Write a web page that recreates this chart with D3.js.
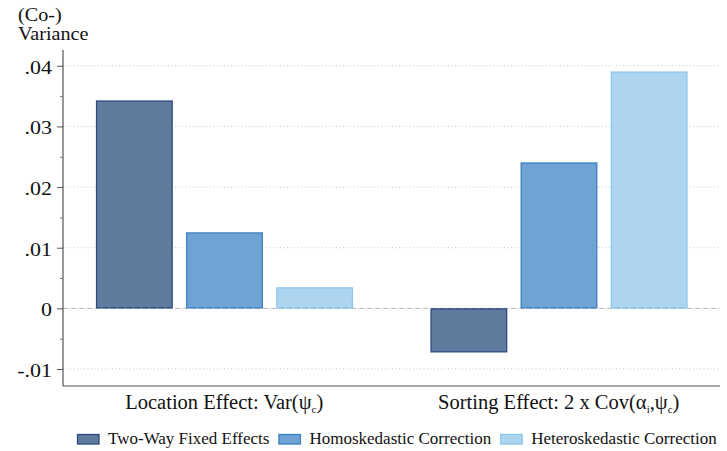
<!DOCTYPE html>
<html><head><meta charset="utf-8">
<script src="https://cdn.jsdelivr.net/npm/d3@7/dist/d3.min.js"></script>
<style>body{margin:0;background:#fff}svg{display:block}</style>
</head><body><svg id="c" width="727" height="451"></svg>
<script>
const groups = ["loc", "sort"];
const series = ["Two-Way Fixed Effects", "Homoskedastic Correction", "Heteroskedastic Correction"];
const twfe = [0.03427, -0.00725];
const homo = [0.01252, 0.02405];
const hetero = [0.00346, 0.03904];
const yTicks = [-0.01, 0, 0.01, 0.02, 0.03, 0.04];
const yTickLabels = ["-.01", "0", ".01", ".02", ".03", ".04"];
const yMinor = [-0.005, 0.005, 0.015, 0.025, 0.035];
const fills = ["#617b9f", "#6fa3d3", "#aed5ef"];
const strokes = ["#2b4b80", "#3b80c2", "#8cc5ee"];

const FONT = "'Liberation Serif'";
const values = [twfe, homo, hetero];
const svg = d3.select("#c");
const L = 63, R = 720, T = 50, B = 386;
const y = d3.scaleLinear().domain([-0.0128, 0.0426]).range([B, T]);
const x0 = d3.scaleBand().domain(groups).range([L, R]).paddingInner(0.2335).paddingOuter(0.0988);
const x1 = d3.scaleBand().domain(series).range([0, x0.bandwidth()]).paddingInner(0.1556).paddingOuter(0);
function txt(sel) { return sel.style("font-family", FONT).attr("fill", "#111"); }

// gridlines
svg.append("g").selectAll("line").data(yTicks).join("line")
  .attr("x1", L).attr("x2", R).attr("y1", d => y(d)).attr("y2", d => y(d))
  .attr("stroke", d => d === 0 ? "#b5b5b5" : "#c4c4c4").attr("stroke-width", 1)
  .attr("stroke-dasharray", d => d === 0 ? "5,3" : "1,2.5");

// bars
const rows = [];
groups.forEach((g, gi) => series.forEach((s, si) => rows.push({g, s, si, v: values[si][gi]})));
svg.append("g").selectAll("rect").data(rows).join("rect")
  .attr("x", d => x0(d.g) + x1(d.s) + 0.5)
  .attr("width", x1.bandwidth() - 0.5)
  .attr("y", d => Math.min(y(d.v), y(0)) + 0.5)
  .attr("height", d => Math.abs(y(d.v) - y(0)) - 1)
  .attr("fill", d => fills[d.si]).attr("stroke", d => strokes[d.si]).attr("stroke-width", 1.3);

// y axis
const ya = d3.axisLeft(y).tickValues(yTicks).tickFormat((d, i) => yTickLabels[i]).tickSize(6).tickPadding(5);
const gy = svg.append("g").attr("transform", `translate(${L},0)`).call(ya);
gy.attr("font-family", null);
gy.select(".domain").attr("stroke", "#333").attr("d", `M0,${T}V${B}`);
gy.selectAll(".tick line").attr("stroke", "#555");
gy.selectAll(".tick text").style("font-family", FONT).style("font-size", "18px").attr("fill", "#111")
  .attr("x", 0).attr("dy", "0.42em").attr("transform", "translate(-11,0) scale(1.22,1)");
const ym = d3.axisLeft(y).tickValues(yMinor).tickFormat("").tickSize(3);
const gym = svg.append("g").attr("transform", `translate(${L},0)`).call(ym);
gym.select(".domain").remove();
gym.selectAll(".tick line").attr("stroke", "#777");

// x axis
const xa = d3.axisBottom(x0).tickSize(0).tickPadding(9).tickFormat("");
const gx = svg.append("g").attr("transform", `translate(0,${B})`).call(xa);
gx.select(".domain").attr("stroke", "#555").attr("d", `M${L},0H${R}`);
const xl = svg.append("g");
const lab1 = txt(xl.append("text")).attr("x", x0("loc") + x0.bandwidth()/2).attr("y", 409).attr("text-anchor", "middle").style("font-size", "20.5px");
lab1.append("tspan").text("Location Effect: Var(ψ");
lab1.append("tspan").text("c").style("font-size", "11px").attr("dy", 4);
lab1.append("tspan").text(")").attr("dy", -4);
const lab2 = txt(xl.append("text")).attr("x", x0("sort") + x0.bandwidth()/2).attr("y", 409).attr("text-anchor", "middle").style("font-size", "20.5px");
lab2.append("tspan").text("Sorting Effect: 2 x Cov(α");
lab2.append("tspan").text("i").style("font-size", "11px").attr("dy", 4);
lab2.append("tspan").text(",ψ").attr("dy", -4);
lab2.append("tspan").text("c").style("font-size", "11px").attr("dy", 4);
lab2.append("tspan").text(")").attr("dy", -4);

// y title
txt(svg.append("text")).attr("transform", "translate(18,21) scale(1.12,1)").style("font-size", "18px").text("(Co-)");
txt(svg.append("text")).attr("transform", "translate(18,39.5) scale(1.12,1)").style("font-size", "18px").text("Variance");

// legend
const lg = svg.append("g");
let lx = 77;
series.forEach((s, i) => {
  lg.append("rect").attr("x", lx + 0.5).attr("y", 434.5).attr("width", 21.5).attr("height", 9.5)
    .attr("fill", fills[i]).attr("stroke", strokes[i]).attr("stroke-width", 1.3);
  const t = txt(lg.append("text")).attr("x", lx + 31).attr("y", 444).style("font-size", "17px").text(s);
  lx += 31 + t.node().getComputedTextLength() + 9;
});
</script></body></html>
